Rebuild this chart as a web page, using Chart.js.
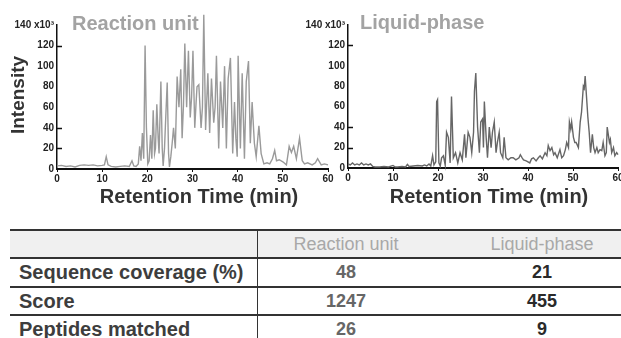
<!DOCTYPE html>
<html>
<head>
<meta charset="utf-8">
<script src="https://cdn.jsdelivr.net/npm/chart.js@4.4.1/dist/chart.umd.min.js"></script>
<style>
  html, body { margin: 0; padding: 0; background: #fff; width: 621px; height: 338px; overflow: hidden; }
  body { position: relative; font-family: "Liberation Sans", Arial, sans-serif; }
  canvas { position: absolute; top: 0; }
  .lbl { position: absolute; white-space: nowrap; font-weight: bold; line-height: 20px; }
  .title { font-size: 20px; color: #a3a3a3; }
  .axis { font-size: 20px; color: #333; }
  #ylab { transform: rotate(-90deg); transform-origin: center center; font-size: 19px; color: #333; }
  table { position: absolute; left: 10px; top: 229px; width: 640px; border-collapse: collapse; }
  td { padding: 0; font-size: 18px; text-align: center; border-top: 2px solid #333; }
  tr.head td { background: #f0f0f0; color: #a8a8a8; height: 26px; }
  td.name { text-align: left; padding-left: 9px; font-weight: bold; color: #3d3d3d; font-size: 20px; border-right: 1.5px solid #333; width: 238px; }
  td.v1 { font-weight: bold; color: #666; width: 176px; }
  td.v2 { font-weight: bold; color: #2a2a2a; }
</style>
</head>
<body>
<canvas id="left" width="335" height="186" style="left:0px"></canvas>
<canvas id="right" width="330" height="185" style="left:300px"></canvas>

<div class="lbl title" style="left:72px; top:13px">Reaction unit</div>
<div class="lbl title" style="left:360px; top:12px">Liquid-phase</div>
<div class="lbl" id="ylab" style="left:-27px; top:85px; width:90px; text-align:center">Intensity</div>
<div class="lbl axis" style="left:99px; top:186px; width:200px; text-align:center">Retention Time (min)</div>
<div class="lbl axis" style="left:389px; top:186px; width:200px; text-align:center">Retention Time (min)</div>

<table id="tbl"></table>

<script>
// Reaction unit chromatogram (x = min, y = intensity x10^3)
const reactionTimes = [0,1,2,3,4,5,6,7,8,9,10,10.5,10.9,11.3,12,13,14,15,16,16.6,17,17.5,18,18.3,18.6,18.9,19.2,19.5,19.8,20.1,20.4,20.7,21,21.3,21.6,21.8,22.1,22.4,22.6,23,23.3,23.5,23.8,24,24.4,24.7,24.9,25.2,25.5,25.8,26.2,26.6,27,27.4,27.7,28,28.3,28.7,29.1,29.5,29.8,30.1,30.5,30.8,31,31.4,31.9,32.2,32.5,32.9,33.4,33.8,34.2,34.7,35,35.3,35.8,36.2,36.7,37.1,37.5,37.9,38.4,38.9,39.3,39.6,39.9,40.1,40.6,41,41.5,41.9,42.4,42.8,43.2,43.7,44.1,44.7,45.2,45.8,46.5,47.1,47.7,48.2,48.6,49.2,50,50.8,51.4,51.9,52.4,53,53.7,54.3,54.8,55.5,56.5,57.2,57.7,58.5,59.2,60];
const reactionValues = [3,3.5,2.5,3,2,3.5,4,3.5,4,3,3.5,4,12,4,2.5,2,2.5,3,2.5,8,3,2.5,5,22,8,35,10,120,40,5,8,33,10,57,15,20,63,30,15,85,20,3,20,42,84,15,2,12,25,40,20,90,60,97,30,62,122,60,115,50,70,115,40,65,80,82,40,60,150,38,93,35,88,45,60,110,20,85,40,100,20,88,108,15,65,30,12,110,20,93,10,85,105,25,65,25,12,42,15,5,6,5,10,18,8,9,7,4,22,16,22,10,30,8,5,6,4,6,10,4,5,4];

// Liquid-phase chromatogram
const liquidTimes = [0,0.5,1,1.5,2,2.5,3,3.5,4,4.5,5,5.5,6,7,8,9,10,10.5,11,12,12.8,13.2,13.6,14.5,15.5,16.5,17,17.5,18,18.4,18.8,19.1,19.5,19.7,19.9,20.2,20.5,20.8,21.2,21.6,21.9,22.3,22.7,23,23.4,23.9,24.4,24.9,25.4,25.9,26.2,26.7,27.1,27.5,27.9,28.1,28.4,28.8,29.2,29.5,29.9,30.1,30.3,30.7,31,31.4,31.8,32.1,32.5,32.9,33.2,33.6,33.9,34.4,34.7,35.1,35.6,36.2,36.7,37.3,38,38.3,38.7,39,39.6,40.4,40.8,41.2,41.8,42.3,42.7,43.2,43.8,44.2,44.5,44.9,45.3,45.7,46,46.5,47.1,47.5,47.9,48.3,48.6,49,49.2,49.5,49.7,50.1,50.4,50.7,51.2,51.6,51.9,52.3,52.5,52.7,53,53.3,53.6,53.9,54.3,54.6,54.9,55.3,55.6,56,56.4,56.7,57.1,57.4,57.6,58.1,58.3,58.6,59,59.3,59.7,60];
const liquidValues = [4,3,5,3,4,3,5,3,4,3,4,1.5,1,1,1.5,1,2.5,1,1,1.5,1,3.5,1.5,2,2.5,2,3,2,4,2,12,3,6,65,67,5,2,10,12,3,35,30,5,70,10,15,5,15,8,33,10,35,30,15,35,75,93,40,15,45,48,20,65,30,10,40,20,35,45,15,25,35,15,10,30,10,8,10,10,8,10,13,10,8,7,5,9,10,7,10,12,9,15,12,22,17,20,13,15,10,18,10,12,18,25,20,45,38,45,30,25,25,20,45,55,80,78,90,70,50,35,15,33,20,15,20,15,18,17,25,12,15,40,25,28,15,20,12,15,13];

// Axis ticks
const xTicks = [0, 10, 20, 30, 40, 50, 60];
const yTicks = [0, 20, 40, 60, 80, 100, 120, 140];

// Table
const tableHeaders = ['Reaction unit', 'Liquid-phase'];
const tableRows = ['Sequence coverage (%)', 'Score', 'Peptides matched'];
const reactionStats = [48, 1247, 26];
const liquidStats = [21, 455, 9];

const TICK_FONT = { family: "'Liberation Sans', Arial, sans-serif", size: 10, weight: 'bold' };
const INNER_MARKS = [20, 40, 120];

// small inward tick marks on the y axis
const innerTicks = {
    id: 'innerTicks',
    afterDraw(chart) {
        const { ctx, chartArea, scales } = chart;
        ctx.save();
        ctx.strokeStyle = '#111';
        ctx.lineWidth = 1.5;
        INNER_MARKS.forEach(v => {
            const y = Math.round(scales.y.getPixelForValue(v)) + 0.5;
            ctx.beginPath();
            ctx.moveTo(chartArea.left, y);
            ctx.lineTo(chartArea.left + 5, y);
            ctx.stroke();
        });
        ctx.restore();
    }
};

function makeChart(id, times, values, color, yWidth, padRight) {
    return new Chart(document.getElementById(id), {
        type: 'line',
        data: {
            datasets: [{
                data: times.map((t, i) => ({ x: t, y: values[i] })),
                borderColor: color,
                borderWidth: 1.4,
                pointRadius: 0,
                tension: 0,
                clip: false
            }]
        },
        options: {
            responsive: false,
            animation: false,
            devicePixelRatio: 1,
            layout: { padding: { top: 25, right: padRight, left: 0, bottom: 0 } },
            plugins: { legend: { display: false }, tooltip: { enabled: false } },
            scales: {
                x: {
                    type: 'linear',
                    min: 0, max: 60,
                    afterBuildTicks: s => { s.ticks = xTicks.map(v => ({ value: v })); },
                    ticks: { font: TICK_FONT, color: '#222', padding: 1, maxRotation: 0 },
                    grid: { drawOnChartArea: false, drawTicks: true, tickLength: 3, color: '#111', lineWidth: 1 },
                    border: { display: true, color: '#111', width: 2 },
                    afterFit: s => { s.height = 17; }
                },
                y: {
                    min: 0, max: 140,
                    afterBuildTicks: s => { s.ticks = yTicks.map(v => ({ value: v })); },
                    ticks: {
                        font: TICK_FONT, color: '#222', padding: 3,
                        callback: v => v === 140 ? '140 x10\u00b3' : v
                    },
                    grid: { drawOnChartArea: false, drawTicks: false },
                    border: { display: true, color: '#111', width: 1.5 },
                    afterFit: s => { s.width = yWidth; }
                }
            }
        },
        plugins: [innerTicks]
    });
}

makeChart('left', reactionTimes, reactionValues, '#9a9a9a', 57, 7);
makeChart('right', liquidTimes, liquidValues, '#666666', 48, 12);

// build the results table
const tbl = document.getElementById('tbl');
let html = '<tr class="head"><td class="name"></td><td style="width:176px">' + tableHeaders[0] + '</td><td>' + tableHeaders[1] + '</td></tr>';
const rowHeights = [29, 28, 28];
tableRows.forEach((r, i) => {
    html += '<tr style="height:' + rowHeights[i] + 'px"><td class="name">' + r + '</td><td class="v1">' + reactionStats[i] + '</td><td class="v2">' + liquidStats[i] + '</td></tr>';
});
tbl.innerHTML = html;
</script>
</body>
</html>
